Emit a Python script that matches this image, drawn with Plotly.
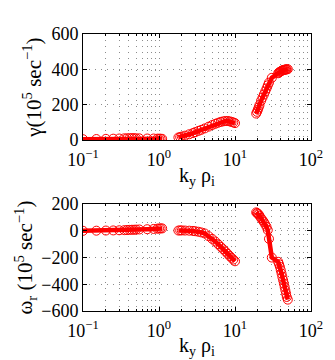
import plotly.graph_objects as go
from plotly.subplots import make_subplots

# segment 1
k1 = [0.10, 0.15, 0.20, 0.25, 0.30, 0.35, 0.38, 0.41, 0.44, 0.47, 0.50, 0.55, 0.70, 0.85, 0.95, 1.00, 1.05, 1.10]
gamma1 = [5, 6, 7, 8, 9, 10, 10, 11, 11, 11, 10, 10, 9, 9, 8, 8, 8, 7]
omega1 = [0, 1, 2, 3, 4, 5, 6, 7, 8, 8, 9, 10, 12, 14, 16, 17, 18, 18]

# segment 2
k2 = [1.8, 1.9, 2.0, 2.2, 2.5, 2.8, 3.0, 3.3, 3.6, 4.0, 4.5, 5.0, 5.5, 6.0, 6.5, 7.0, 7.5, 8.0, 8.5, 9.0, 9.5, 10.0]
gamma2 = [15, 17, 20, 25, 33, 40, 45, 52, 58, 66, 76, 85, 92, 98, 103, 106, 108, 108, 106, 103, 100, 96]
omega2 = [2, 3, 3, 2, 1, -1, -3, -7, -12, -20, -40, -60, -80, -100, -120, -138, -155, -172, -188, -202, -215, -228]

# segment 3
k3 = [19.0, 19.5, 20, 20.5, 21, 22, 23, 24, 25, 26, 27, 28, 30.5, 37, 38, 39, 40, 41, 42, 43, 44, 45, 46, 47, 48, 49.5]
gamma3 = [150, 160, 172, 185, 198, 222, 240, 258, 275, 292, 310, 325, 352, 378, 382, 386, 389, 392, 394, 396, 397, 398, 399, 400, 400, 401]
omega3 = [138, 133, 128, 122, 112, 95, 80, 65, 48, 30, 5, -60, -200, -232, -250, -270, -295, -320, -345, -370, -395, -420, -445, -470, -495, -515]

xtick_vals = [0.1, 1, 10, 100]
xtick_text = ["10<sup>\u22121</sup>", "10<sup>0</sup>", "10<sup>1</sup>", "10<sup>2</sup>"]
minor_vals = [m * 10 ** e for e in (-1, 0, 1) for m in range(2, 10)]
xlabel = "k<sub>y</sub> \u03c1<sub>i</sub>"

fig = make_subplots(rows=2, cols=1)

for row, ys in ((1, (gamma1, gamma2, gamma3)), (2, (omega1, omega2, omega3))):
    for xs, yv in zip((k1, k2, k3), ys):
        fig.add_trace(go.Scatter(x=xs, y=yv, mode="lines+markers",
                                 line=dict(color="red", width=4.5),
                                 marker=dict(symbol="circle-open", size=9, color="red",
                                             line=dict(width=1, color="red")),
                                 showlegend=False), row=row, col=1)

grid = dict(showgrid=True, gridcolor="rgba(0,0,0,0.45)", griddash="1px,5px", gridwidth=1)
axis_common = dict(showline=True, mirror="ticks", linecolor="black", linewidth=1,
                   ticks="inside", ticklen=4, tickcolor="black", zeroline=False,
                   tickfont=dict(size=18, color="black"), **grid)

for r in (1, 2):
    fig.update_xaxes(type="log", range=[-1, 2], tickmode="array", tickvals=xtick_vals,
                     ticktext=xtick_text, ticklabelstandoff=3,
                     minor=dict(tickmode="array", tickvals=minor_vals, ticks="inside", ticklen=2,
                                tickcolor="black", **grid),
                     row=r, col=1, **axis_common)

fig.update_yaxes(range=[0, 600], tickvals=[0, 200, 400, 600],
                 title=dict(text="\u03b3(10<sup>5</sup> sec<sup>\u22121</sup>)", font=dict(size=21), standoff=4),
                 row=1, col=1, **axis_common)
fig.update_yaxes(range=[-600, 200], tickvals=[-600, -400, -200, 0, 200],
                 title=dict(text="\u03c9<sub>r</sub> (10<sup>5</sup> sec<sup>\u22121</sup>)", font=dict(size=21), standoff=2),
                 row=2, col=1, **axis_common)

# x-axis titles placed under each panel
for ypos in (0.487, -0.128):
    fig.add_annotation(text=xlabel, x=0.5, y=ypos, xref="paper", yref="paper",
                       xanchor="center", yanchor="middle", showarrow=False,
                       font=dict(size=20))

fig.update_layout(
    width=335, height=360,
    margin=dict(l=75, r=32, t=26, b=57),
    font=dict(family="Liberation Serif", size=18, color="black"),
    paper_bgcolor="white", plot_bgcolor="white",
    yaxis=dict(domain=[0.617, 1.0]),
    yaxis2=dict(domain=[0.0, 0.386]),
)

fig.write_html("out.html")
